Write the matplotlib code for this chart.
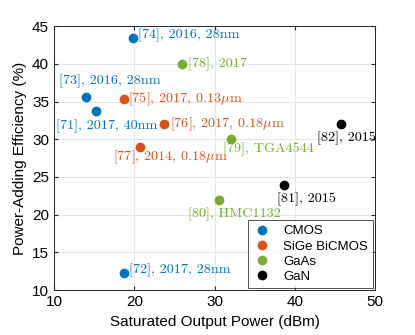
import matplotlib
matplotlib.use("Agg")
import matplotlib.pyplot as plt

plt.rcParams['font.family'] = ['Liberation Sans', 'DejaVu Sans']
plt.rcParams['mathtext.fontset'] = 'cm'

# data: (x = saturated output power dBm, y = PAE %)
cmos_x = [19.9, 14.0, 15.2, 18.75]
cmos_y = [43.4, 35.6, 33.7, 12.3]
sige_x = [18.7, 23.75, 20.7]
sige_y = [35.3, 32.0, 29.0]
gaas_x = [26.0, 32.1, 30.6]
gaas_y = [40.0, 30.05, 22.0]
gan_x = [45.7, 38.6]
gan_y = [32.0, 24.0]

# label text, anchor in data coords, colour key
labels = [
    ("[74], 2016, 28nm", 20.45, 43.85, 'cmos'),
    ("[73], 2016, 28nm", 10.6, 37.7, 'cmos'),
    ("[71], 2017, 40nm", 10.25, 31.7, 'cmos'),
    ("[72], 2017, 28nm", 19.3, 12.7, 'cmos'),
    ("[75], 2017, 0.13$\\mu$m", 19.2, 35.3, 'sige'),
    ("[76], 2017, 0.18$\\mu$m", 24.4, 32.0, 'sige'),
    ("[77], 2014, 0.18$\\mu$m", 17.4, 27.6, 'sige'),
    ("[78], 2017", 26.7, 40.0, 'gaas'),
    ("[79], TGA4544", 31.1, 28.7, 'gaas'),
    ("[80], HMC1132", 26.7, 20.0, 'gaas'),
    ("[82], 2015", 42.75, 30.15, 'gan'),
    ("[81], 2015", 37.75, 22.05, 'gan'),
]

colors = {'cmos': '#0072BD', 'sige': '#D95319', 'gaas': '#77AC30', 'gan': 'black'}

fig = plt.figure(figsize=(4.15, 3.35), dpi=100)
ax = fig.add_axes([0.130, 0.134, 0.774, 0.788])

ax.plot(cmos_x, cmos_y, 'o', color=colors['cmos'], ms=6, label='CMOS')
ax.plot(sige_x, sige_y, 'o', color=colors['sige'], ms=6, label='SiGe BiCMOS')
ax.plot(gaas_x, gaas_y, 'o', color=colors['gaas'], ms=6, label='GaAs')
ax.plot(gan_x, gan_y, 'o', color=colors['gan'], ms=6, label='GaN')

for txt, x, y, k in labels:
    ax.text(x, y, txt, color=colors[k], fontsize=10.2, family='cmr10',
            ha='left', va='center')

ax.set_xlim(10, 50)
ax.set_ylim(10, 45)
ax.set_xticks([10, 20, 30, 40, 50])
ax.set_yticks([10, 15, 20, 25, 30, 35, 40, 45])
ax.grid(True, color='#e6e6e6', linewidth=0.8)
ax.set_axisbelow(True)
ax.tick_params(direction='in', top=True, right=True, labelsize=11, length=3,
               color='#262626')
for s in ax.spines.values():
    s.set_color('#262626')
    s.set_linewidth(0.7)
ax.set_xlabel("Saturated Output Power (dBm)", fontsize=11)
ax.set_ylabel("Power-Adding Efficiency (%)", fontsize=11)

leg = ax.legend(loc='lower right', fontsize=9.5, borderaxespad=0.15,
                fancybox=False, edgecolor='#262626', handlelength=1.4,
                handletextpad=0.9, labelspacing=0.22, borderpad=0.4)
leg.get_frame().set_linewidth(0.7)

fig.savefig("out.png", dpi=100)
